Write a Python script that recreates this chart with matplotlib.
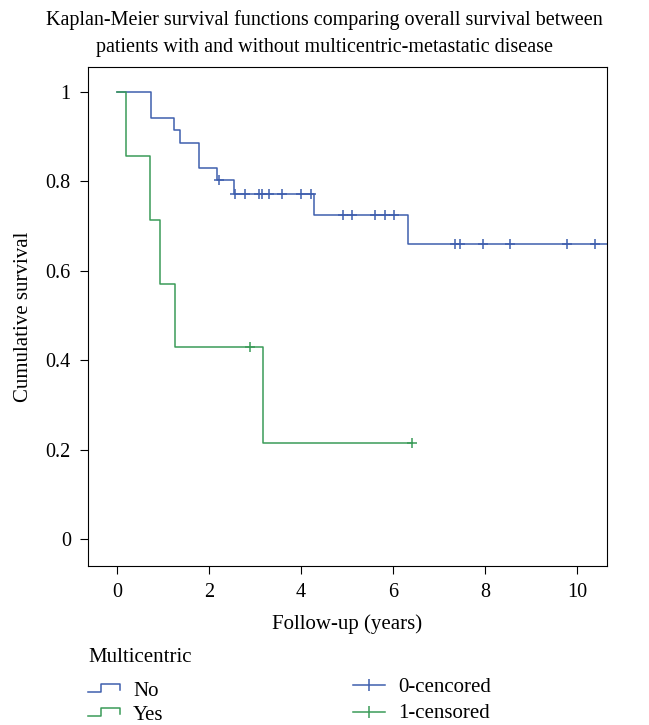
import numpy as np
import matplotlib
matplotlib.use("Agg")
import matplotlib.pyplot as plt
from matplotlib.lines import Line2D

plt.rcParams['font.family'] = ['Liberation Serif', 'DejaVu Serif']

# Kaplan-Meier steps
no_times = [0, 0.73, 1.24, 1.37, 1.78, 2.17, 2.54, 4.28, 6.33, 10.8]
no_surv = [1.0, 0.943, 0.915, 0.887, 0.831, 0.803, 0.772, 0.725, 0.661, 0.661]
no_censored = [2.21, 2.57, 2.78, 3.09, 3.16, 3.30, 3.59, 4.01, 4.21,
               4.91, 5.11, 5.61, 5.83, 6.03, 7.35, 7.45, 7.95, 8.55, 9.78, 10.38]

yes_times = [0, 0.2, 0.72, 0.93, 1.26, 3.17, 6.42]
yes_surv = [1.0, 0.857, 0.714, 0.571, 0.429, 0.214, 0.214]
yes_censored = [2.9, 6.42]

blue = "#3f5fae"
green = "#3a9b58"


def surv_at(times, surv, t):
    idx = np.searchsorted(times, t, side='right') - 1
    return np.array(surv)[idx]


fig = plt.figure(figsize=(6.49, 7.25), dpi=100)
ax = fig.add_axes([87.5 / 649, 1 - 566 / 725, (607 - 87.5) / 649, (566 - 67) / 725])

ax.step(no_times, no_surv, where='post', color=blue, lw=1.1)
ax.step(yes_times, yes_surv, where='post', color=green, lw=1.1)
ax.plot(no_censored, surv_at(no_times, no_surv, no_censored), '+',
        color=blue, ms=7, mew=1.1)
ax.plot(yes_censored, surv_at(yes_times, yes_surv, yes_censored), '+',
        color=green, ms=7, mew=1.1)

ax.set_xlim(-0.64, 10.65)
ax.set_ylim(-0.06, 1.056)
ax.set_xticks([0, 2, 4, 6, 8, 10])
ax.set_yticks([0, 0.2, 0.4, 0.6, 0.8, 1.0])
ax.set_yticklabels(["0", "0.2", "0.4", "0.6", "0.8", "1"])
ax.tick_params(direction='out', length=6, width=0.8, labelsize=14.5, pad=6)
for s in ax.spines.values():
    s.set_linewidth(0.8)

ax.set_xlabel("Follow-up (years)", fontsize=15, labelpad=9)
ax.set_ylabel("Cumulative survival", fontsize=15, labelpad=9)

fig.text(0.5, 0.986, "Kaplan-Meier survival functions comparing overall survival between\n"
         "patients with and without multicentric-metastatic disease",
         ha='center', va='top', fontsize=14.5, linespacing=1.6)

# legend block
fig.text(88 / 649, 1 - 658 / 725, "Multicentric", fontsize=15, va='center', ha='left')
for i, (lab, col) in enumerate([("No", blue), ("Yes", green)]):
    yc = 1 - (688 + 24 * i) / 725
    h = 8 / 725
    xs = np.array([88, 101, 101, 120, 120]) / 649
    ys = np.array([yc - h / 2, yc - h / 2, yc + h / 2, yc + h / 2, yc - h / 4])
    fig.add_artist(Line2D(xs, ys, color=col, lw=1.1, transform=fig.transFigure))
    fig.text(133 / 649, yc - 3 / 725, lab, fontsize=15, va='center', ha='left')

for i, (lab, col) in enumerate([("0-cencored", blue), ("1-censored", green)]):
    yc = 1 - (685 + 27 * i) / 725
    fig.add_artist(Line2D([353 / 649, 385 / 649], [yc, yc], color=col, lw=1.1,
                          transform=fig.transFigure))
    fig.add_artist(Line2D([369 / 649], [yc], marker='|', ms=8, mew=1.1, color=col,
                          transform=fig.transFigure))
    fig.text(398 / 649, yc - 2 / 725, lab, fontsize=15, va='center', ha='left')

fig.savefig("out.png", dpi=100)
